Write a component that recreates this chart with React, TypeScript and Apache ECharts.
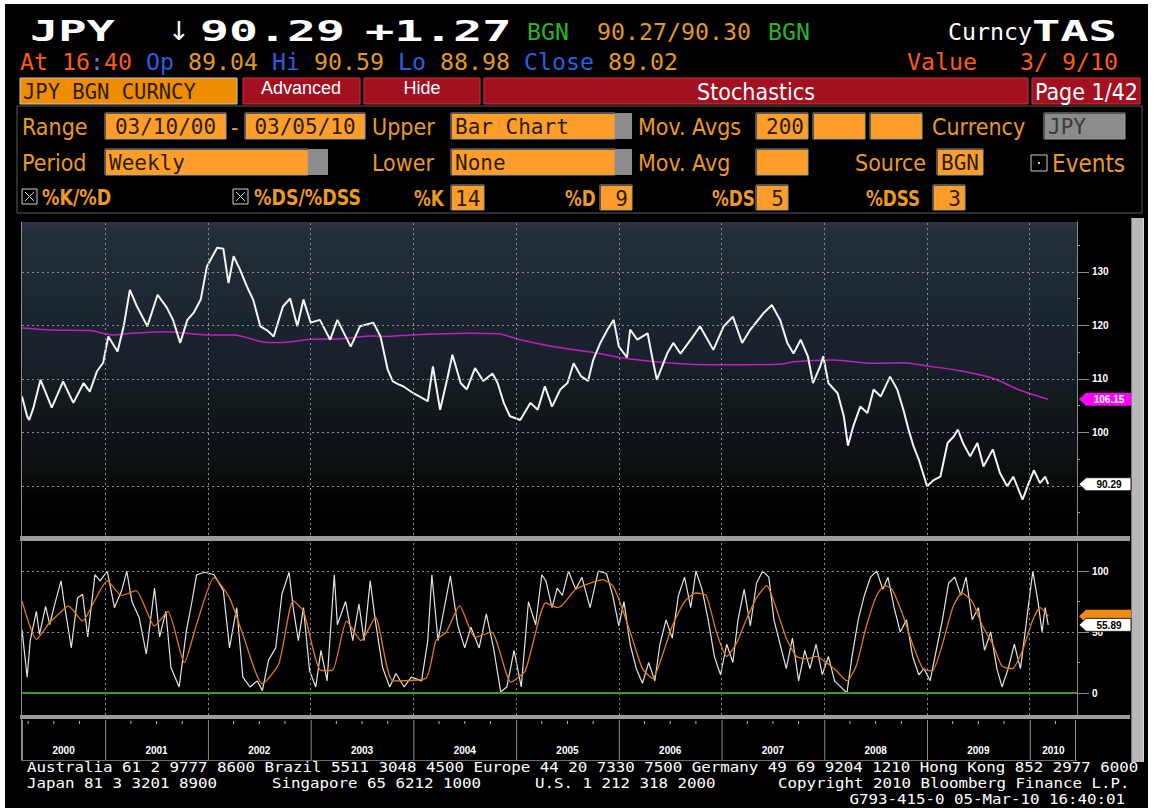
import React, { useEffect, useRef } from "react";
import * as echarts from "echarts";

// ---------- DATA ----------
const T_MIN = 2000.19; // 03/10/00
const T_MAX = 2010.46;
const yearStarts = [2001, 2002, 2003, 2004, 2005, 2006, 2007, 2008, 2009, 2010];
const yearLabels = ["2000", "2001", "2002", "2003", "2004", "2005", "2006", "2007", "2008", "2009", "2010"];

const priceT = [
  2000.19, 2000.24, 2000.26, 2000.30, 2000.37, 2000.48, 2000.59, 2000.69, 2000.79, 2000.85, 2000.92, 2000.98,
  2001.03, 2001.12, 2001.18, 2001.24, 2001.31, 2001.41, 2001.51, 2001.60, 2001.66, 2001.73, 2001.80, 2001.86,
  2001.93, 2001.99, 2002.09, 2002.15, 2002.20, 2002.25, 2002.31, 2002.38, 2002.44, 2002.51, 2002.58, 2002.64,
  2002.73, 2002.80, 2002.87, 2002.93, 2003.00, 2003.09, 2003.19, 2003.26, 2003.39, 2003.48, 2003.61, 2003.68,
  2003.75, 2003.80, 2003.85, 2003.90, 2004.00, 2004.14, 2004.19, 2004.26, 2004.33, 2004.38, 2004.46, 2004.52,
  2004.60, 2004.68, 2004.77, 2004.82, 2004.88, 2004.94, 2005.04, 2005.14, 2005.21, 2005.28, 2005.35, 2005.43,
  2005.50, 2005.56, 2005.63, 2005.70, 2005.75, 2005.82, 2005.89, 2005.95, 2006.00, 2006.08, 2006.11, 2006.18,
  2006.28, 2006.33, 2006.37, 2006.47, 2006.53, 2006.60, 2006.70, 2006.79, 2006.92, 2007.02, 2007.11, 2007.20,
  2007.28, 2007.41, 2007.49, 2007.57, 2007.64, 2007.70, 2007.77, 2007.84, 2007.89, 2007.96, 2007.99, 2008.04,
  2008.13, 2008.19, 2008.23, 2008.28, 2008.35, 2008.42, 2008.48, 2008.55, 2008.64, 2008.71, 2008.77, 2008.82,
  2008.87, 2008.92, 2009.00, 2009.06, 2009.13, 2009.20, 2009.26, 2009.30, 2009.35, 2009.42, 2009.49, 2009.55,
  2009.64, 2009.71, 2009.78, 2009.84, 2009.93, 2009.99, 2010.04, 2010.10, 2010.15, 2010.18,
];
const priceV = [
  106.7, 103.0, 102.3, 104.5, 109.8, 104.6, 109.5, 105.5, 109.2, 107.6, 111.4, 113.0,
  117.9, 115.1, 119.8, 126.6, 123.5, 119.8, 125.7, 123.3, 121.0, 116.7, 121.0, 122.3,
  124.8, 131.0, 134.5, 134.3, 127.9, 132.9, 130.5, 127.2, 124.8, 119.8, 119.0, 117.9,
  123.5, 125.0, 119.8, 124.8, 120.5, 121.0, 117.3, 121.0, 116.0, 119.8, 120.5, 117.9,
  111.7, 109.5, 109.0, 108.6, 107.3, 105.8, 112.3, 104.2, 110.0, 114.5, 109.2, 108.0,
  112.0, 109.6, 111.0, 109.2, 105.5, 103.0, 102.3, 105.5, 104.2, 108.6, 104.8, 108.0,
  109.2, 112.9, 110.5, 109.6, 113.5, 116.7, 119.2, 121.0, 116.0, 114.0, 119.2, 117.3,
  118.5, 113.5, 109.8, 114.7, 116.7, 114.7, 117.3, 119.8, 115.4, 119.8, 121.6, 116.7,
  119.2, 122.3, 123.8, 121.0, 116.7, 114.7, 117.3, 114.2, 109.2, 112.3, 114.2, 109.2,
  107.3, 103.0, 97.5, 101.0, 104.8, 103.6, 108.0, 106.7, 110.4, 108.0, 104.2, 100.5,
  97.3, 94.9, 89.9, 91.0, 91.7, 98.0, 99.2, 100.5, 98.0, 95.5, 98.0, 93.6,
  96.8, 92.4, 89.9, 91.7, 87.4, 90.5, 92.9, 90.5, 91.7, 90.29,
];

const maT = [
  2000.19, 2000.50, 2000.85, 2001.07, 2001.26, 2001.60, 2001.99, 2002.25, 2002.58, 2002.73, 2003.00,
  2003.30, 2003.61, 2003.71, 2004.00, 2004.56, 2004.82, 2005.04, 2005.40, 2005.75, 2006.11, 2006.60,
  2006.92, 2007.57, 2007.70, 2008.09, 2008.48, 2008.77, 2009.00, 2009.32, 2009.64, 2009.90, 2010.18,
];
const maV = [
  119.5, 119.1, 119.0, 118.2, 118.5, 118.8, 118.2, 118.2, 116.8, 116.8, 117.4,
  117.5, 118.0, 117.9, 118.2, 118.5, 118.4, 117.3, 115.9, 114.9, 113.7, 112.8,
  112.6, 112.7, 113.2, 113.5, 112.9, 113.0, 112.4, 111.5, 110.1, 107.9, 106.15,
];

const kT = [
  2000.19, 2000.24, 2000.27, 2000.33, 2000.36, 2000.42, 2000.46, 2000.50, 2000.57, 2000.60, 2000.67, 2000.73,
  2000.78, 2000.83, 2000.90, 2000.95, 2001.02, 2001.09, 2001.16, 2001.21, 2001.26, 2001.33, 2001.40, 2001.48,
  2001.53, 2001.59, 2001.64, 2001.72, 2001.79, 2001.84, 2001.89, 2001.97, 2002.06, 2002.15, 2002.21, 2002.28,
  2002.34, 2002.41, 2002.48, 2002.53, 2002.59, 2002.66, 2002.72, 2002.79, 2002.83, 2002.88, 2002.93, 2002.99,
  2003.05, 2003.10, 2003.16, 2003.23, 2003.26, 2003.34, 2003.41, 2003.47, 2003.52, 2003.58, 2003.63, 2003.70,
  2003.77, 2003.83, 2003.91, 2003.98, 2004.08, 2004.14, 2004.18, 2004.24, 2004.29, 2004.36, 2004.43, 2004.50,
  2004.56, 2004.64, 2004.71, 2004.78, 2004.85, 2004.91, 2004.98, 2005.05, 2005.12, 2005.19, 2005.25, 2005.29,
  2005.35, 2005.40, 2005.45, 2005.51, 2005.58, 2005.64, 2005.72, 2005.80, 2005.88, 2005.94, 2006.00, 2006.05,
  2006.11, 2006.17, 2006.23, 2006.29, 2006.35, 2006.40, 2006.46, 2006.52, 2006.58, 2006.64, 2006.70, 2006.75,
  2006.81, 2006.87, 2006.93, 2006.99, 2007.05, 2007.11, 2007.16, 2007.22, 2007.28, 2007.34, 2007.40, 2007.46,
  2007.51, 2007.57, 2007.63, 2007.69, 2007.75, 2007.81, 2007.86, 2007.92, 2007.98, 2008.04, 2008.10, 2008.16,
  2008.22, 2008.27, 2008.33, 2008.39, 2008.45, 2008.51, 2008.57, 2008.62, 2008.68, 2008.74, 2008.80, 2008.86,
  2008.92, 2008.97, 2009.03, 2009.09, 2009.15, 2009.21, 2009.27, 2009.33, 2009.38, 2009.44, 2009.50, 2009.56,
  2009.62, 2009.68, 2009.73, 2009.79, 2009.85, 2009.91, 2009.97, 2010.03, 2010.08, 2010.12, 2010.15, 2010.18,
];
const kV = [
  52, 13, 43, 67, 48, 71, 56, 70, 92, 74, 37, 78,
  81, 46, 97, 92, 100, 70, 84, 100, 75, 62, 32, 86,
  46, 67, 21, 5, 51, 73, 97, 99, 97, 84, 37, 70,
  13, 5, 10, 2, 27, 37, 81, 99, 70, 43, 70, 18,
  5, 35, 10, 97, 56, 75, 43, 73, 43, 92, 59, 21,
  5, 16, 5, 13, 10, 43, 97, 43, 65, 96, 56, 37,
  54, 37, 65, 37, 1, 5, 35, 5, 75, 56, 97, 92,
  70, 86, 80, 100, 85, 95, 70, 100, 98, 80, 55, 75,
  40, 20, 8, 25, 10, 40, 60, 45, 80, 95, 70, 100,
  85, 60, 30, 15, 40, 25, 60, 85, 55, 90, 100, 95,
  60, 40, 20, 45, 10, 35, 20, 40, 15, 30, 10, 5,
  0, 30, 60, 80, 95, 100, 85, 95, 70, 50, 60, 30,
  15, 20, 10, 35, 60, 90, 95, 80, 95, 60, 70, 35,
  50, 20, 5, 20, 40, 20, 60, 100, 75, 50, 70, 55.89,
];

const dT = [
  2000.19, 2000.33, 2000.40, 2000.46, 2000.55, 2000.64, 2000.78, 2000.88, 2001.02, 2001.16, 2001.30, 2001.48,
  2001.61, 2001.77, 2001.89, 2002.06, 2002.21, 2002.34, 2002.53, 2002.69, 2002.83, 2002.93, 2003.10, 2003.21,
  2003.35, 2003.49, 2003.63, 2003.80, 2004.12, 2004.22, 2004.32, 2004.45, 2004.60, 2004.76, 2004.95, 2005.09,
  2005.29, 2005.40, 2005.45, 2005.58, 2005.72, 2005.84, 2005.94, 2006.03, 2006.13, 2006.23, 2006.33, 2006.42,
  2006.52, 2006.64, 2006.75, 2006.85, 2006.95, 2007.05, 2007.14, 2007.24, 2007.34, 2007.44, 2007.53, 2007.63,
  2007.73, 2007.83, 2007.92, 2008.02, 2008.12, 2008.22, 2008.31, 2008.41, 2008.51, 2008.59, 2008.66, 2008.76,
  2008.86, 2008.96, 2009.05, 2009.15, 2009.25, 2009.34, 2009.44, 2009.54, 2009.64, 2009.73, 2009.83, 2009.93,
  2010.03, 2010.10, 2010.18,
];
const dV = [
  75.5, 44, 51, 58, 65, 71.5, 59, 73, 92, 80, 84, 55,
  67, 25, 56.5, 94.6, 78, 48, 7.6, 24, 75.5, 67, 18.5, 18.5,
  59, 43, 62, 10, 12, 43, 50, 71.5, 45.7, 50, 9, 18.5,
  74, 70, 72, 85, 90, 93, 88, 70, 45, 20, 12, 30,
  55, 75, 82, 80, 50, 30, 40, 60, 78, 88, 70, 45,
  30, 28, 30, 25, 18, 10, 22, 55, 80, 88, 85, 65,
  40, 20, 18, 40, 70, 82, 75, 55, 40, 22, 20, 35,
  60, 70, 63,
];

const priceTicks = [90, 100, 110, 120, 130];
const priceLabels = [100, 110, 120, 130]; // 90 lies under the last-price tag
const priceMinor = [85, 95, 105, 115, 125, 135];
const stochTicks = [0, 50, 100];
const stochMinor = [25, 75];
const stochGrid = [50, 100];
const lastPrice = 90.29;
const lastMA = 106.15;
const lastK = 55.89;
const lastD = 63;

// ---------- helpers ----------
const zip = (a: number[], b: number[]) => a.map((t, i) => [t, b[i]]);
const MONO = '"DejaVu Sans Mono", "Liberation Mono", monospace';
const COND = '"DejaVu Sans Condensed", "Liberation Sans Narrow", "DejaVu Sans", sans-serif';
const AMBER = "#eb9a22";
const BOXTXT = "#2b1d00";
const ORANGE_BOX = "#ff9d2b";

function T(x: number, y: number, text: string, fill: string, font: string, o: any = {}) {
  return {
    type: "text",
    x,
    y,
    z: 50,
    scaleX: o.sx || 1,
    silent: true,
    style: { text, fill, font, textAlign: o.align || "left", textVerticalAlign: "middle", ...(o.style || {}) },
  };
}
function R(x: number, y: number, w: number, h: number, fill: string, stroke?: string, z = 40) {
  return {
    type: "rect",
    z,
    silent: true,
    shape: { x, y, width: w, height: h },
    style: { fill, stroke: stroke || null, lineWidth: stroke ? 1 : 0 },
  };
}
function L(x1: number, y1: number, x2: number, y2: number, stroke: string, w = 1, z = 45) {
  return { type: "line", z, silent: true, shape: { x1, y1, x2, y2 }, style: { stroke, lineWidth: w } };
}
const BOXFONT = `21px ${MONO}`;
function box(x: number, y: number, w: number, h: number, text?: string, align = "left", fill = ORANGE_BOX, color = BOXTXT) {
  const els: any[] = [R(x, y, w, h, fill, "#9a9a9a"), L(x, y + 0.5, x + w, y + 0.5, "#555"), L(x + 0.5, y, x + 0.5, y + h, "#555")];
  if (text) {
    const tx = align === "right" ? x + w - 4 : align === "center" ? x + w / 2 : x + 4;
    els.push(T(tx, y + h / 2 + 1, text, color, BOXFONT, { align }));
  }
  return els;
}
function checkX(x: number, y: number, s: number) {
  return [R(x, y, s, s, "#000", "#cfcfcf"), L(x + 3, y + 3, x + s - 3, y + s - 3, "#cfcfcf"), L(x + s - 3, y + 3, x + 3, y + s - 3, "#cfcfcf")];
}

function staticGraphics(): any[] {
  const LBL = `23px ${COND}`;
  const LBLB = `bold 22px ${COND}`;
  const BIG = `bold 28px ${MONO}`;
  const M23 = `23.25px ${MONO}`;
  const FOOT = `13.7px ${MONO}`;
  const FSX = 1.153;
  const g: any[] = [];
  // page edges
  g.push(R(0, 0, 1154, 4, "#fff", undefined, 5));
  g.push(R(0, 0, 5, 808, "#fff", undefined, 5));
  g.push(R(1148, 0, 6, 808, "#fff", undefined, 5));
  // row 1
  g.push(T(30, 31, "JPY", "#fff", BIG, { sx: 1.68 }));
  g.push(T(168, 31, "↓", "#fff", `26px "DejaVu Sans", sans-serif`));
  g.push(T(200, 31, "90.29", "#fff", BIG, { sx: 1.72 }));
  g.push(T(365, 31, "+1.27", "#fff", BIG, { sx: 1.74 }));
  g.push(T(527, 31, "BGN", "#25b525", M23));
  g.push(T(597, 31, "90.27/90.30", "#e39a1c", M23));
  g.push(T(768, 31, "BGN", "#25b525", M23));
  g.push(T(948, 31, "Curncy", "#fff", M23));
  g.push(T(1032, 31, "TAS", "#fff", BIG, { sx: 1.68 }));
  // row 2
  g.push({
    type: "text",
    x: 20,
    y: 61,
    z: 50,
    silent: true,
    style: {
      text: "{r|At 16}{c|:}{r|40} {b|Op} {a|89.04} {b|Hi} {a|90.59} {b|Lo} {a|88.98} {b|Close} {a|89.02}",
      font: M23,
      fill: "#fff",
      textVerticalAlign: "middle",
      rich: {
        r: { fill: "#ff5a14", font: M23 },
        c: { fill: "#5a7ad8", font: M23 },
        b: { fill: "#2a5fe0", font: M23 },
        a: { fill: "#e39a1c", font: M23 },
      },
    },
  });
  g.push(T(907, 61, "Value", "#ff5a14", M23));
  g.push(T(1020, 61, "3/ 9/10", "#ff5a14", M23));
  // row 3 tabs
  g.push(R(20, 78, 217, 26, "#f08c00", "#c8c8c8"));
  g.push(T(23, 92, "JPY BGN CURNCY", BOXTXT, `20.5px ${MONO}`));
  const red = "#a3101f";
  const redB = "#d0303f";
  g.push(R(243, 78, 117, 26, red, redB));
  g.push(T(301, 88, "Advanced", "#fff", `18px "Liberation Sans", Arial, sans-serif`, { align: "center" }));
  g.push(R(364, 78, 116, 26, red, redB));
  g.push(T(422, 88, "Hide", "#fff", `18px "Liberation Sans", Arial, sans-serif`, { align: "center" }));
  g.push(R(484, 78, 544, 26, red, redB));
  g.push(T(756, 92, "Stochastics", "#fff", LBL, { align: "center" }));
  g.push(R(1032, 78, 108, 26, red, redB));
  g.push(T(1035, 92, "Page 1/42", "#fff", LBL));
  // panel
  g.push(R(17, 106, 1125, 107, "rgba(0,0,0,0)", "#5a5a5a", 30));
  // row A
  g.push(T(22, 127, "Range", AMBER, LBL));
  g.push(...box(105, 113, 121, 26, "03/10/00", "center"));
  g.push(T(231, 127, "-", AMBER, LBL));
  g.push(...box(245, 113, 120, 26, "03/05/10", "center"));
  g.push(T(372, 127, "Upper", AMBER, LBL));
  g.push(...box(451, 113, 164, 26, "Bar Chart"));
  g.push(R(615, 113, 17, 26, "#8c8c8c"));
  g.push(T(638, 127, "Mov. Avgs", AMBER, LBL));
  g.push(...box(756, 113, 52, 26, "200", "right"));
  g.push(...box(813, 113, 52, 26));
  g.push(...box(870, 113, 52, 26));
  g.push(T(932, 127, "Currency", AMBER, LBL));
  g.push(...box(1044, 113, 81, 26, "JPY", "left", "#8c8c8c", "#3a3a3a"));
  // row B
  g.push(T(22, 163, "Period", AMBER, LBL));
  g.push(...box(105, 149, 203, 26, "Weekly"));
  g.push(R(308, 149, 20, 26, "#8c8c8c"));
  g.push(T(372, 163, "Lower", AMBER, LBL));
  g.push(...box(451, 149, 164, 26, "None"));
  g.push(R(615, 149, 17, 26, "#8c8c8c"));
  g.push(T(638, 163, "Mov. Avg", AMBER, LBL));
  g.push(...box(756, 149, 52, 26));
  g.push(T(855, 163, "Source", AMBER, LBL));
  g.push(...box(937, 149, 46, 26, "BGN"));
  g.push(R(1031, 155, 16, 16, "#000", "#cfcfcf"));
  g.push(R(1038, 162, 2, 2, "#cfcfcf"));
  g.push(T(1052, 164, "Events", AMBER, `24px ${COND}`));
  // row C
  g.push(...checkX(22, 189, 15));
  g.push(T(42, 198, "%K/%D", AMBER, LBLB, { sx: 0.88 }));
  g.push(...checkX(233, 189, 15));
  g.push(T(254, 198, "%DS/%DSS", AMBER, LBLB, { sx: 0.88 }));
  g.push(T(414, 198, "%K", AMBER, LBLB, { sx: 0.85 }));
  g.push(...box(451, 185, 33, 25, "14"));
  g.push(T(565, 198, "%D", AMBER, LBLB, { sx: 0.85 }));
  g.push(...box(600, 185, 32, 25, "9", "right"));
  g.push(T(712, 198, "%DS", AMBER, LBLB, { sx: 0.85 }));
  g.push(...box(756, 185, 32, 25, "5", "right"));
  g.push(T(866, 198, "%DSS", AMBER, LBLB, { sx: 0.85 }));
  g.push(...box(933, 185, 32, 25, "3", "right"));
  // chart frame
  g.push(R(20, 536, 1110, 5, "#9c9c9c", undefined, 60));
  g.push(R(20, 715, 1110, 4, "#9c9c9c", undefined, 60));
  g.push(L(21.5, 222, 21.5, 761, "#8c8c8c", 1, 60));
  g.push(L(21, 760.5, 1077, 760.5, "#6c6c6c", 1, 60));
  g.push(R(1131, 218, 13, 544, "#b8b8b8", undefined, 60));
  g.push(L(1131.5, 218, 1131.5, 762, "#7a7a7a", 1, 61));
  g.push(L(1143.5, 218, 1143.5, 762, "#d8d8d8", 1, 61));
  // footer
  g.push(T(27, 767, "Australia 61 2 9777 8600 Brazil 5511 3048 4500 Europe 44 20 7330 7500 Germany 49 69 9204 1210 Hong Kong 852 2977 6000", "#fff", FOOT, { sx: FSX }));
  g.push(T(27, 783, "Japan 81 3 3201 8900", "#fff", FOOT, { sx: FSX }));
  g.push(T(272, 783, "Singapore 65 6212 1000", "#fff", FOOT, { sx: FSX }));
  g.push(T(535, 783, "U.S. 1 212 318 2000", "#fff", FOOT, { sx: FSX }));
  g.push(T(778, 783, "Copyright 2010 Bloomberg Finance L.P.", "#fff", FOOT, { sx: FSX }));
  g.push(T(1125, 799, "G793-415-0 05-Mar-10 16:40:01", "#fff", FOOT, { align: "right", sx: FSX }));
  return g;
}

function tag(y: number, fill: string, text: string | null, color: string) {
  const els: any[] = [
    {
      type: "polygon",
      z: 70,
      silent: true,
      shape: { points: [[1079, y], [1086, y - 6.5], [1131, y - 6.5], [1131, y + 6.5], [1086, y + 6.5]] },
      style: { fill, stroke: fill === "#ffffff" ? "#222" : null, lineWidth: 1 },
    },
  ];
  if (text) els.push({ ...T(1109, y + 0.5, text, color, `bold 10px "Liberation Sans", Arial, sans-serif`, { align: "center" }), z: 71 });
  return els;
}

const axisLabelStyle = {
  color: "#ffffff",
  fontWeight: "bold",
  fontSize: 10,
  fontFamily: '"Liberation Sans", Arial, sans-serif',
  margin: 15,
};
const dotted = { color: "#8c8c8c", width: 1, type: [2, 3] as any };

function buildOption(): any {
  const bg = new echarts.graphic.LinearGradient(0, 0, 0, 1, [
    { offset: 0, color: "#2e3347" },
    { offset: 0.035, color: "#232e39" },
    { offset: 0.25, color: "#1c2731" },
    { offset: 0.45, color: "#18202a" },
    { offset: 0.58, color: "#12191b" },
    { offset: 0.68, color: "#11121b" },
    { offset: 0.8, color: "#0c0f0f" },
    { offset: 0.87, color: "#030303" },
    { offset: 1, color: "#000000" },
  ]);
  const segs = yearLabels.map((lab, i) => [i === 0 ? T_MIN : Number(lab), i === yearLabels.length - 1 ? T_MAX : Number(lab) + 1, i]);
  return {
    animation: false,
    backgroundColor: "#000",
    grid: [
      { left: 22, top: 222, width: 1055, height: 313, show: true, backgroundColor: bg, borderWidth: 0 },
      { left: 22, top: 543, width: 1055, height: 172, show: true, backgroundColor: "#000", borderWidth: 0 },
      { left: 22, top: 720, width: 1055, height: 40, show: false },
    ],
    xAxis: [0, 1, 2].map((i) => ({ type: "value", gridIndex: i, min: T_MIN, max: T_MAX, show: false })),
    yAxis: [
      {
        gridIndex: 0, type: "value", position: "right", min: 80.8, max: 139.3,
        axisLine: { show: true, lineStyle: { color: "#8a8a8a" } },
        axisTick: { show: true, customValues: priceTicks, length: 12, lineStyle: { color: "#8a8a8a" } },
        axisLabel: { ...axisLabelStyle, customValues: priceLabels },
        splitLine: { show: false },
      },
      {
        gridIndex: 0, type: "value", position: "right", min: 80.8, max: 139.3,
        axisLine: { show: false },
        axisTick: { show: true, customValues: priceMinor, length: 3, lineStyle: { color: "#9a9a9a" } },
        axisLabel: { show: false },
        splitLine: { show: false },
      },
      {
        gridIndex: 1, type: "value", position: "right", min: -18, max: 123,
        axisLine: { show: true, lineStyle: { color: "#8a8a8a" } },
        axisTick: { show: true, customValues: stochTicks, length: 12, lineStyle: { color: "#8a8a8a" } },
        axisLabel: { ...axisLabelStyle, customValues: stochTicks },
        splitLine: { show: false },
      },
      {
        gridIndex: 1, type: "value", position: "right", min: -18, max: 123,
        axisLine: { show: false },
        axisTick: { show: true, customValues: stochMinor, length: 3, lineStyle: { color: "#9a9a9a" } },
        axisLabel: { show: false },
        splitLine: { show: false },
      },
      { gridIndex: 2, type: "value", min: 0, max: 1, show: false },
    ],
    series: [
      {
        name: "MA200",
        type: "line",
        xAxisIndex: 0,
        yAxisIndex: 0,
        data: zip(maT, maV),
        symbol: "none",
        smooth: 0.3,
        lineStyle: { color: "#c41cc4", width: 1.5 },
        markLine: {
          silent: true,
          symbol: ["none", "none"],
          label: { show: false },
          lineStyle: dotted,
          data: [...yearStarts.map((y) => ({ xAxis: y })), ...priceTicks.map((v) => ({ yAxis: v }))],
        },
      },
      {
        name: "JPY",
        type: "line",
        xAxisIndex: 0,
        yAxisIndex: 0,
        data: zip(priceT, priceV),
        symbol: "none",
        lineStyle: { color: "#f4f4f4", width: 2 },
      },
      {
        name: "%DS",
        type: "line",
        xAxisIndex: 1,
        yAxisIndex: 2,
        data: zip(kT, kV),
        symbol: "none",
        lineStyle: { color: "#e2e2e2", width: 1.2 },
        markLine: {
          silent: true,
          symbol: ["none", "none"],
          label: { show: false },
          lineStyle: dotted,
          data: [
            ...yearStarts.map((y) => ({ xAxis: y })),
            ...stochGrid.map((v) => ({ yAxis: v })),
            { yAxis: 0, lineStyle: { color: "#3f9a1c", width: 2, type: "solid" } },
          ],
        },
      },
      {
        name: "%DSS",
        type: "line",
        xAxisIndex: 1,
        yAxisIndex: 2,
        data: zip(dT, dV),
        symbol: "none",
        smooth: 0.2,
        lineStyle: { color: "#e07a10", width: 1.3 },
      },
      {
        name: "years",
        type: "custom",
        xAxisIndex: 2,
        yAxisIndex: 4,
        silent: true,
        data: segs,
        renderItem: (params: any, api: any) => {
          const s = api.value(0);
          const e = api.value(1);
          const idx = api.value(2);
          const cs = params.coordSys;
          const xs = api.coord([s, 0])[0];
          const xe = api.coord([e, 0])[0];
          const children: any[] = [
            { type: "line", shape: { x1: xs + 0.5, y1: cs.y, x2: xs + 0.5, y2: cs.y + cs.height }, style: { stroke: "#8c8c8c", lineWidth: 1 } },
          ];
          if (idx === yearLabels.length - 1) {
            children.push({ type: "line", shape: { x1: xe - 1.5, y1: cs.y, x2: xe - 1.5, y2: cs.y + cs.height }, style: { stroke: "#8c8c8c", lineWidth: 1 } });
          }
          const yr = Number(yearLabels[idx]);
          [0.25, 0.5, 0.75].forEach((q) => {
            const t = yr + q;
            if (t > T_MIN && t < T_MAX) {
              const x = api.coord([t, 0])[0];
              children.push({ type: "line", shape: { x1: x, y1: cs.y + 1, x2: x, y2: cs.y + 4 }, style: { stroke: "#bdbdbd", lineWidth: 1 } });
            }
          });
          children.push({
            type: "text",
            style: {
              text: yearLabels[idx],
              x: (xs + xe) / 2,
              y: cs.y + cs.height - 10,
              fill: "#ffffff",
              font: `bold 10px "Liberation Sans", Arial, sans-serif`,
              textAlign: "center",
              textVerticalAlign: "middle",
            },
          });
          return { type: "group", children };
        },
      },
    ],
  };
}

export default function App() {
  const ref = useRef<HTMLDivElement>(null);
  useEffect(() => {
    if (!ref.current) return;
    const chart = echarts.init(ref.current, null, { renderer: "svg" });
    chart.setOption(buildOption());
    const yMA = chart.convertToPixel({ yAxisIndex: 0 }, lastMA) as number;
    const yPx = chart.convertToPixel({ yAxisIndex: 0 }, lastPrice) as number;
    const yK = chart.convertToPixel({ yAxisIndex: 2 }, lastK) as number;
    const yD = chart.convertToPixel({ yAxisIndex: 2 }, lastD) as number;
    chart.setOption({
      graphic: [
        ...staticGraphics(),
        ...tag(yMA, "#ff00ff", lastMA.toFixed(2), "#ffffff"),
        ...tag(yPx, "#ffffff", lastPrice.toFixed(2), "#000000"),
        ...tag(yD, "#f08a10", null, "#000"),
        ...tag(yK, "#ffffff", lastK.toFixed(2), "#000000"),
      ],
    });
    return () => chart.dispose();
  }, []);
  return (
    <div
      ref={ref}
      style={{ position: "fixed", left: 0, top: 0, width: 1154, height: 808, background: "#000" }}
    />
  );
}
